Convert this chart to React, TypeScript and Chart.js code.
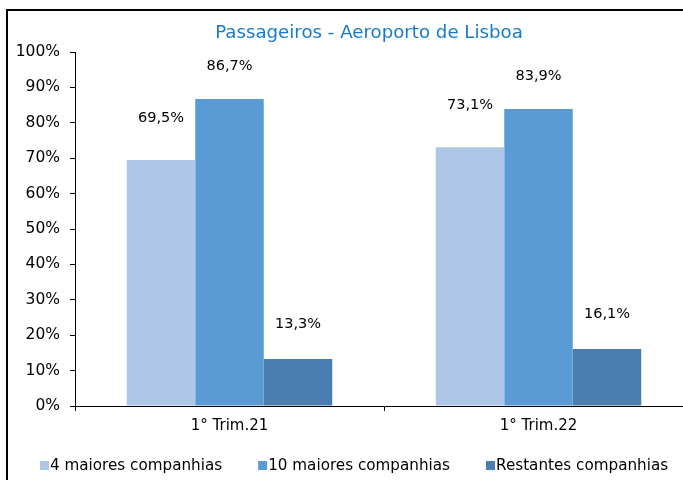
import React, { useEffect, useRef } from "react";
import { Chart, registerables } from "chart.js";

Chart.register(...registerables);

const categories = ["1° Trim.21", "1° Trim.22"];
const seriesNames = ["4 maiores companhias", "10 maiores companhias", "Restantes companhias"];
const top4 = [69.5, 73.1];
const top10 = [86.7, 83.9];
const others = [13.3, 16.1];
const seriesColors = ["#aec7e6", "#5b9bd5", "#4a7eb1"];
const titleText = "Passageiros - Aeroporto de Lisboa";

const FONT = "'DejaVu Sans', sans-serif";

const fmt = (v: number) => v.toFixed(1).replace(".", ",") + "%";

const labelPlugin = {
  id: "customDraw",
  afterDraw(chart: any) {
    const ctx = chart.ctx;
    const offsets = [42, 33, 35];
    ctx.save();
    // data labels
    ctx.font = `14.5px ${FONT}`;
    ctx.fillStyle = "#000";
    ctx.textAlign = "center";
    ctx.textBaseline = "middle";
    chart.data.datasets.forEach((ds: any, di: number) => {
      const meta = chart.getDatasetMeta(di);
      meta.data.forEach((bar: any, i: number) => {
        ctx.fillText(fmt(ds.data[i]), bar.x, bar.y - offsets[di]);
      });
    });
    // title
    ctx.font = `18.2px ${FONT}`;
    ctx.fillStyle = "#1a7ac8";
    ctx.fillText(titleText, 361, 22);
    // legend
    ctx.font = `15.2px ${FONT}`;
    ctx.textAlign = "left";
    let x = 32;
    const y = 455;
    chart.data.datasets.forEach((ds: any) => {
      ctx.fillStyle = ds.backgroundColor;
      ctx.fillRect(x, y - 5, 9, 9);
      ctx.fillStyle = "#000";
      ctx.fillText(ds.label, x + 10, y);
      x += 10 + ctx.measureText(ds.label).width + 36;
    });
    ctx.restore();
  },
};

export default function App() {
  const ref = useRef<HTMLCanvasElement>(null);
  useEffect(() => {
    if (!ref.current) return;
    const chart = new Chart(ref.current, {
      type: "bar",
      data: {
        labels: categories,
        datasets: [
          { label: seriesNames[0], data: top4, backgroundColor: seriesColors[0] },
          { label: seriesNames[1], data: top10, backgroundColor: seriesColors[1] },
          { label: seriesNames[2], data: others, backgroundColor: seriesColors[2] },
        ],
      },
      options: {
        animation: false,
        responsive: false,
        maintainAspectRatio: false,
        layout: { padding: { top: 41, left: 0, right: 37, bottom: 0 } },
        plugins: {
          legend: { display: false },
          title: { display: false },
          tooltip: { enabled: false },
        },
        datasets: {
          bar: { categoryPercentage: 0.665, barPercentage: 1 },
        },
        scales: {
          x: {
            grid: {
              drawOnChartArea: false,
              drawTicks: true,
              tickLength: 5,
              color: "#000",
              offset: true,
            },
            border: { color: "#000", width: 1 },
            ticks: {
              color: "#000",
              font: { family: FONT, size: 15 },
              padding: 6,
            },
            afterFit: (scale: any) => {
              scale.height = 75;
            },
          },
          y: {
            min: 0,
            max: 100,
            grid: {
              drawOnChartArea: false,
              drawTicks: true,
              tickLength: 5,
              color: "#000",
            },
            border: { color: "#000", width: 1 },
            ticks: {
              stepSize: 10,
              color: "#000",
              font: { family: FONT, size: 15.5 },
              padding: 10,
              callback: (v: any) => v + "%",
            },
            afterFit: (scale: any) => {
              scale.width = 67;
            },
          },
        },
      },
      plugins: [labelPlugin],
    });
    return () => chart.destroy();
  }, []);

  return (
    <div
      style={{
        position: "fixed",
        left: 0,
        top: 0,
        width: 683,
        height: 480,
        overflow: "hidden",
        background: "#fff",
      }}
    >
      <div
        style={{
          position: "absolute",
          left: 6,
          top: 9,
          width: 760,
          height: 520,
          borderLeft: "2px solid #000",
          borderTop: "2px solid #000",
        }}
      >
        <canvas ref={ref} width={722} height={470} style={{ display: "block", width: 722, height: 470 }} />
      </div>
    </div>
  );
}
